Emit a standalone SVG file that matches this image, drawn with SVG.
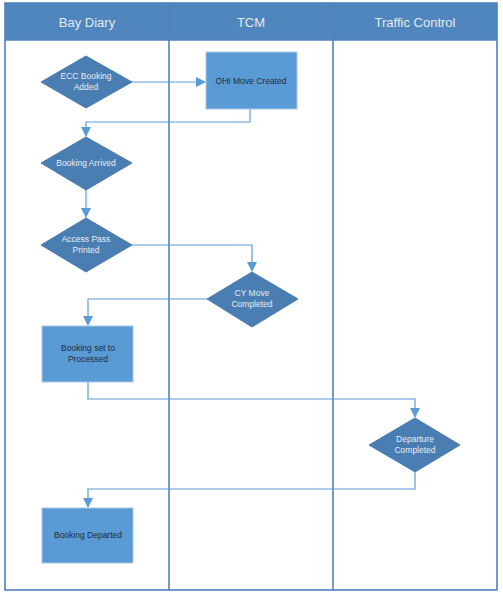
<svg xmlns="http://www.w3.org/2000/svg" width="503" height="599" viewBox="0 0 503 599">
<style>
.hdr{font-family:"Liberation Sans","Open Sans",sans-serif;font-size:13px;fill:#e4e9ef;text-anchor:middle}
.lane{fill:none;stroke:#4f81bd;stroke-width:1.6}
.dia{fill:#4a7db2;stroke:#4a7db2;stroke-width:1}
.box{fill:#5b9bd5;stroke:#a9c6e6;stroke-width:1}
.dt{font-family:"Liberation Sans","Open Sans",sans-serif;font-size:8.5px;fill:#e8edf3;text-anchor:middle}
.bt{font-family:"Liberation Sans","Open Sans",sans-serif;font-size:8.5px;fill:#1d2b3c;text-anchor:middle}
.con{fill:none;stroke:#5b9bd5;stroke-width:1.2}
</style>
<defs>
<marker id="arr" markerWidth="10" markerHeight="10" refX="9" refY="5" orient="auto" markerUnits="userSpaceOnUse">
<path d="M0,0 L10,5 L0,10 z" fill="#5b9bd5"/>
</marker>
</defs>
<g id="pool">
<rect x="5" y="3" width="492" height="37" fill="#4f86bd"/>
<rect x="5" y="3" width="492" height="587" class="lane"/>
<line x1="169" y1="3" x2="169" y2="590" class="lane"/>
<line x1="333" y1="3" x2="333" y2="590" class="lane"/>
<line x1="5" y1="40" x2="497" y2="40" stroke="#4f81bd" stroke-width="1.6"/>
<text x="87" y="27" class="hdr">Bay Diary</text>
<text x="251" y="27" class="hdr">TCM</text>
<text x="415" y="27" class="hdr">Traffic Control</text>
</g>
<g id="connectors">
<line x1="132" y1="82" x2="205" y2="82" class="con" marker-end="url(#arr)"/>
<polyline points="250,109 250,122 86,122 86,136" class="con" marker-end="url(#arr)"/>
<line x1="86" y1="190" x2="86" y2="217" class="con" marker-end="url(#arr)"/>
<polyline points="132,245 252,245 252,271" class="con" marker-end="url(#arr)"/>
<polyline points="207,299 88,299 88,325" class="con" marker-end="url(#arr)"/>
<polyline points="88,382 88,399 415,399 415,417" class="con" marker-end="url(#arr)"/>
<polyline points="415,472 415,489 88,489 88,507" class="con" marker-end="url(#arr)"/>
</g>
<g id="ecc-booking-added">
<polygon points="86,56 132,82 86,108 41,82" class="dia"/>
<text x="86" y="79" class="dt">ECC Booking</text>
<text x="86" y="90" class="dt">Added</text>
</g>
<g id="ohi-move-created">
<rect x="206" y="52" width="91" height="57" class="box"/>
<text x="251" y="84" class="bt">OHI Move Created</text>
</g>
<g id="booking-arrived">
<polygon points="86,137 132,163 86,190 41,163" class="dia"/>
<text x="86" y="166" class="dt">Booking Arrived</text>
</g>
<g id="access-pass-printed">
<polygon points="86,218 132,245 86,272 41,245" class="dia"/>
<text x="86" y="242" class="dt">Access Pass</text>
<text x="86" y="253" class="dt">Printed</text>
</g>
<g id="cy-move-completed">
<polygon points="252,272 298,299 252,327 207,299" class="dia"/>
<text x="252" y="296" class="dt">CY Move</text>
<text x="252" y="307" class="dt">Completed</text>
</g>
<g id="booking-set-to-processed">
<rect x="42" y="326" width="91" height="56" class="box"/>
<text x="88" y="351" class="bt">Booking set to</text>
<text x="88" y="362" class="bt">Processed</text>
</g>
<g id="departure-completed">
<polygon points="415,418 460,445 415,472 369,445" class="dia"/>
<text x="415" y="442" class="dt">Departure</text>
<text x="415" y="453" class="dt">Completed</text>
</g>
<g id="booking-departed">
<rect x="42" y="508" width="91" height="55" class="box"/>
<text x="88" y="538" class="bt">Booking Departed</text>
</g>
</svg>
